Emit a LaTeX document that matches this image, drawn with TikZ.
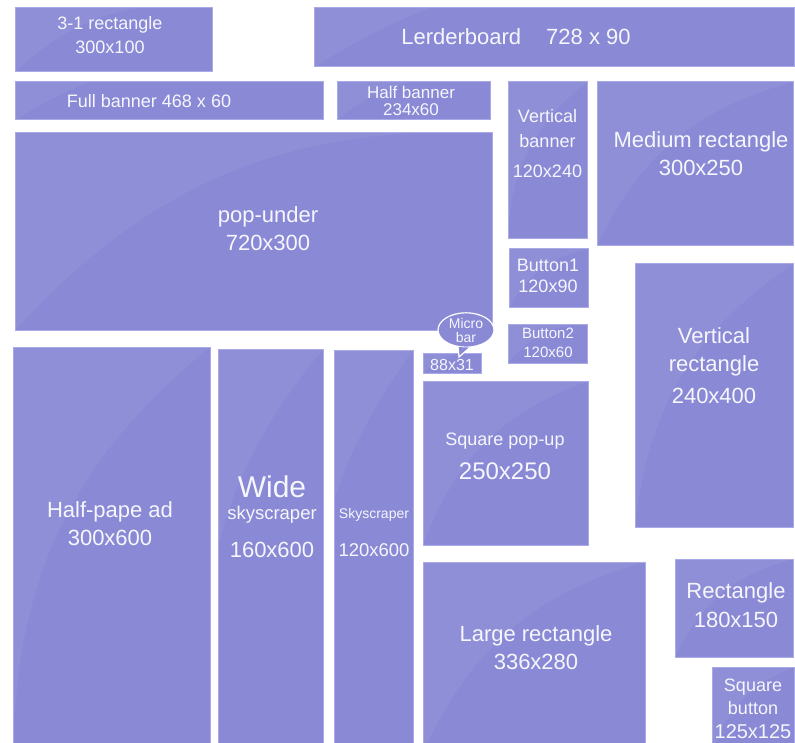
\documentclass[tikz,border=0pt]{standalone}
\usepackage{fontspec}
\setmainfont{Liberation Sans}
\usetikzlibrary{fit,shapes.geometric}
\definecolor{adfill}{RGB}{137,137,214}
\definecolor{adedge}{RGB}{170,170,232}
\definecolor{adtext}{RGB}{246,246,252}
\newcommand{\fsz}[2]{\fontsize{#1}{#2}\selectfont}

\begin{document}
\begin{tikzpicture}[x=1pt,y=-1pt,
  adbox/.style={draw=adedge,line width=1pt,fill=adfill,inner sep=0pt,outer sep=0pt,
    path picture={\fill[white,fill opacity=.06]
      (path picture bounding box.south west) to[bend left=25]
      (path picture bounding box.north east) --
      (path picture bounding box.north west) -- cycle;}},
  adtext/.style={text=adtext,align=center,inner sep=0pt}]
  \useasboundingbox (0,0) rectangle (795,743);
  \clip (0,0) rectangle (795,743);

  % ad boxes, corners in pixels of the layout
  \node[adbox,fit={(15,8)(212,72)}] (rect31) {};
  \node[adbox,fit={(314,8)(794,67)}] (leader) {};
  \node[adbox,fit={(15,82)(323,120)}] (fullban) {};
  \node[adbox,fit={(337,82)(490,120)}] (halfban) {};
  \node[adbox,fit={(508,82)(587,239)}] (vertban) {};
  \node[adbox,fit={(597,82)(793,246)}] (medrect) {};
  \node[adbox,fit={(15,133)(492,330)}] (popunder) {};
  \node[adbox,fit={(509,249)(588,308)}] (button1) {};
  \node[adbox,fit={(508,324)(587,363)}] (button2) {};
  \node[adbox,fit={(423,353)(481,373)}] (microbar) {};
  \node[adbox,fit={(635,264)(793,527)}] (vertrect) {};
  \node[adbox,fit={(13,347)(210,752)}] (halfpage) {};
  \node[adbox,fit={(218,349)(323,752)}] (widesky) {};
  \node[adbox,fit={(334,350)(413,752)}] (sky) {};
  \node[adbox,fit={(423,381)(588,545)}] (sqpopup) {};
  \node[adbox,fit={(423,562)(645,752)}] (largerect) {};
  \node[adbox,fit={(675,559)(793,657)}] (rect) {};
  \node[adbox,fit={(712,667)(794,752)}] (sqbutton) {};

  % speech bubble over the micro bar
  \node[ellipse,fill=adfill,draw=white,line width=1.2pt,minimum width=56pt,
    minimum height=31pt,inner sep=0pt,adtext,font=\fsz{14}{14}] (microbub)
    at (466,330) {Micro\\bar};
  \coordinate (tailtip) at (459,357);
  \fill[adfill] (microbub.245) -- (tailtip) -- (microbub.282) -- cycle;
  \draw[white,line width=1.2pt] (microbub.245) -- (tailtip) -- (microbub.282);

  % labels
  \node[adtext,font=\fsz{18}{24}] (rect31-t) at (110,35) {3-1 rectangle\\300x100};
  \node[adtext,font=\fsz{22}{28}] (leader-t) at (516,37) {Lerderboard\hspace{25pt}728 x 90};
  \node[adtext,font=\fsz{18}{24}] (fullban-t) at (149,101) {Full banner 468 x 60};
  \node[adtext,font=\fsz{17}{17}] (halfban-t) at (411,100.5) {Half banner\\234x60};
  \node[adtext,font=\fsz{18}{25}] (vertban-t) at (547.5,143.5) {Vertical\\banner\\[5pt]120x240};
  \node[adtext,font=\fsz{22}{28}] (medrect-t) at (701,154) {Medium rectangle\\300x250};
  \node[adtext,font=\fsz{22}{28}] (popunder-t) at (268,229) {pop-under\\720x300};
  \node[adtext,font=\fsz{18}{21}] (button1-t) at (548,275.5) {Button1\\120x90};
  \node[adtext,font=\fsz{15}{19}] (button2-t) at (548,342.5) {Button2\\120x60};
  \node[adtext,font=\fsz{16}{16}] (microbar-t) at (452,364.5) {88x31};
  \node[adtext,font=\fsz{22}{28}] (vertrect-t) at (714,366) {Vertical\\rectangle\\[4pt]240x400};
  \node[adtext,font=\fsz{18}{18}] (sqpopup-t1) at (505,441) {Square pop-up};
  \node[adtext,font=\fsz{24}{24}] (sqpopup-t2) at (505,471) {250x250};
  \node[adtext,font=\fsz{22}{28}] (halfpage-t) at (110,524) {Half-pape ad\\300x600};
  \node[adtext,font=\fsz{30}{30}] (widesky-t1) at (272,487) {Wide};
  \node[adtext,font=\fsz{18.5}{18.5}] (widesky-t2) at (272,515) {skyscraper};
  \node[adtext,font=\fsz{22}{22}] (widesky-t3) at (272,550) {160x600};
  \node[adtext,font=\fsz{14}{14}] (sky-t1) at (374,515) {Skyscraper};
  \node[adtext,font=\fsz{18.5}{18.5}] (sky-t2) at (374,550) {120x600};
  \node[adtext,font=\fsz{22}{28}] (largerect-t) at (536,648) {Large rectangle\\336x280};
  \node[adtext,font=\fsz{22}{29}] (rect-t) at (736,605.5) {Rectangle\\180x150};
  \node[adtext,font=\fsz{18}{23}] (sqbutton-t1) at (753,696.5) {Square\\button};
  \node[adtext,font=\fsz{20}{20}] (sqbutton-t2) at (753,732) {125x125};
\end{tikzpicture}
\end{document}
